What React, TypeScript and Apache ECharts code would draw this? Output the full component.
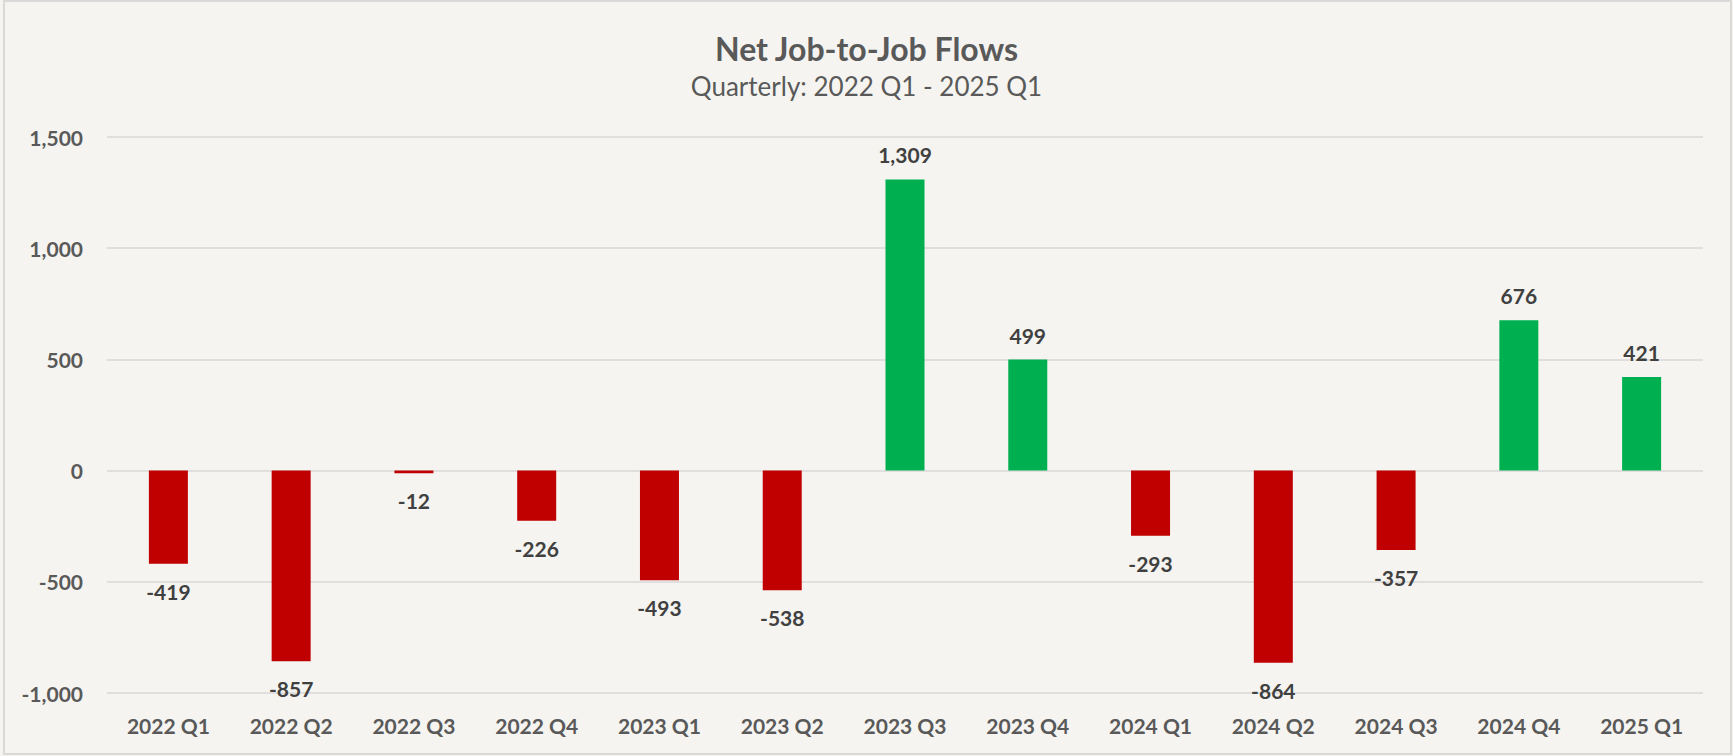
import React, { useEffect, useRef } from "react";
import * as echarts from "echarts";

const categories = [
  "2022 Q1", "2022 Q2", "2022 Q3", "2022 Q4",
  "2023 Q1", "2023 Q2", "2023 Q3", "2023 Q4",
  "2024 Q1", "2024 Q2", "2024 Q3", "2024 Q4",
  "2025 Q1",
];
const netFlows = [-419, -857, -12, -226, -493, -538, 1309, 499, -293, -864, -357, 676, 421];
const yTicks = { min: -1000, max: 1500, interval: 500 };
const titleText = "Net Job-to-Job Flows";
const subtitleText = "Quarterly: 2022 Q1 - 2025 Q1";

const POS_COLOR = "#00B050";
const NEG_COLOR = "#C00000";
const FONT = "Lato, 'Open Sans', sans-serif";

const fmt = (v: number) => v.toLocaleString("en-US");

export default function App() {
  const ref = useRef<HTMLDivElement>(null);
  useEffect(() => {
    document.body.style.margin = "0";
    if (!ref.current) return;
    const chart = echarts.init(ref.current, null, { renderer: "svg" });
    chart.setOption({
      animation: false,
      backgroundColor: "#F5F4F0",
      textStyle: { fontFamily: FONT },
      graphic: [
        {
          type: "rect",
          shape: { x: 4, y: 1, width: 1727, height: 753 },
          style: { fill: "none", stroke: "#D9D9D9", lineWidth: 2 },
          silent: true,
        },
      ],
      title: [
        {
          text: titleText,
          left: "center",
          top: 27,
          textStyle: { fontFamily: FONT, fontSize: 32, fontWeight: "bold", color: "#595959" },
        },
        {
          text: subtitleText,
          left: "center",
          top: 68,
          textStyle: { fontFamily: FONT, fontSize: 26, fontWeight: "normal", color: "#595959" },
        },
      ],
      grid: { left: 107, right: 30, top: 137, bottom: 63, containLabel: false },
      xAxis: {
        type: "category",
        data: categories,
        axisLine: { show: false },
        axisTick: { show: false },
        axisLabel: {
          margin: 22,
          fontFamily: FONT,
          fontSize: 21,
          fontWeight: "bold",
          color: "#595959",
        },
      },
      yAxis: {
        type: "value",
        min: yTicks.min,
        max: yTicks.max,
        interval: yTicks.interval,
        axisLine: { show: false },
        axisTick: { show: false },
        splitLine: { lineStyle: { color: "#D9D9D9", width: 1.5 } },
        axisLabel: {
          margin: 24,
          fontFamily: FONT,
          fontSize: 21,
          fontWeight: "bold",
          color: "#595959",
          formatter: (v: number) => fmt(v),
        },
      },
      series: [
        {
          type: "bar",
          barWidth: 39,
          data: netFlows.map((v) => ({
            value: v,
            itemStyle: { color: v >= 0 ? POS_COLOR : NEG_COLOR },
            label: {
              show: true,
              position: v >= 0 ? "top" : "bottom",
              distance: v >= 0 ? 14 : 17,
            },
          })),
          label: {
            show: true,
            fontFamily: FONT,
            fontSize: 21,
            fontWeight: "bold",
            color: "#404040",
            formatter: (p: any) => fmt(p.value),
          },
        },
      ],
    });
    return () => chart.dispose();
  }, []);
  return (
    <div
      ref={ref}
      style={{ position: "absolute", left: 0, top: 0, width: 1733, height: 756 }}
    />
  );
}
